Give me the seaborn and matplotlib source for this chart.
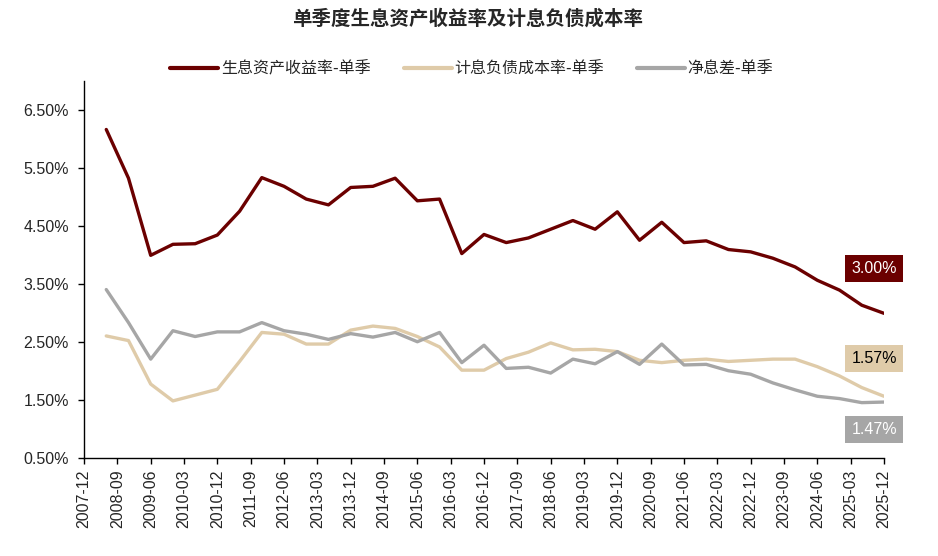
import pandas as pd
import matplotlib.pyplot as plt
import seaborn as sns

# half-year points, 2008-06 .. 2025-12
dates = ['2008-06', '2008-12', '2009-06', '2009-12', '2010-06', '2010-12',
         '2011-06', '2011-12', '2012-06', '2012-12', '2013-06', '2013-12',
         '2014-06', '2014-12', '2015-06', '2015-12', '2016-06', '2016-12',
         '2017-06', '2017-12', '2018-06', '2018-12', '2019-06', '2019-12',
         '2020-06', '2020-12', '2021-06', '2021-12', '2022-06', '2022-12',
         '2023-06', '2023-12', '2024-06', '2024-12', '2025-06', '2025-12']

yield_rate = [6.17, 5.33, 4.00, 4.19, 4.20, 4.35, 4.76, 5.34, 5.19, 4.97, 4.87, 5.17,
              5.19, 5.33, 4.94, 4.97, 4.03, 4.36, 4.22, 4.30, 4.45, 4.60, 4.45, 4.75,
              4.26, 4.57, 4.22, 4.25, 4.10, 4.06, 3.95, 3.80, 3.57, 3.40, 3.14, 3.00]

cost_rate = [2.61, 2.53, 1.78, 1.49, 1.59, 1.69, 2.17, 2.67, 2.64, 2.47, 2.47, 2.71,
             2.78, 2.74, 2.60, 2.42, 2.02, 2.02, 2.22, 2.33, 2.49, 2.37, 2.38, 2.34,
             2.19, 2.15, 2.19, 2.21, 2.17, 2.19, 2.21, 2.21, 2.08, 1.92, 1.72, 1.57]

nim = [3.41, 2.84, 2.21, 2.70, 2.60, 2.68, 2.68, 2.84, 2.70, 2.64, 2.55, 2.65,
       2.59, 2.67, 2.51, 2.67, 2.15, 2.45, 2.05, 2.07, 1.97, 2.21, 2.13, 2.34,
       2.12, 2.47, 2.11, 2.12, 2.01, 1.95, 1.80, 1.68, 1.57, 1.53, 1.46, 1.47]

tick_labels = ['2007-12', '2008-09', '2009-06', '2010-03', '2010-12', '2011-09',
               '2012-06', '2013-03', '2013-12', '2014-09', '2015-06', '2016-03',
               '2016-12', '2017-09', '2018-06', '2019-03', '2019-12', '2020-09',
               '2021-06', '2022-03', '2022-12', '2023-09', '2024-06', '2025-03',
               '2025-12']

series_names = ['生息资产收益率-单季', '计息负债成本率-单季', '净息差-单季']
colors = ['#6B0000', '#DFCBA9', '#A6A6A6']
end_labels = ['3.00%', '1.57%', '1.47%']


def month_idx(s):
    # months since 2007-12, so the date axis stays evenly spaced
    y, m = s.split('-')
    return (int(y) - 2007) * 12 + int(m) - 12


# long-form table for seaborn
rows = []
for name, vals in zip(series_names, [yield_rate, cost_rate, nim]):
    for d, v in zip(dates, vals):
        rows.append({'x': month_idx(d), 'rate': v, 'series': name})
df = pd.DataFrame(rows)

sns.set_theme(style='ticks')
plt.rcParams['font.family'] = ['Liberation Sans', 'Noto Sans CJK SC', 'DejaVu Sans']
plt.rcParams['axes.unicode_minus'] = False

fig = plt.figure(figsize=(9.38, 5.56), dpi=100)
ax = fig.add_axes([0.0896, 0.1757, 0.8528, 0.678])

sns.lineplot(data=df, x='x', y='rate', hue='series', hue_order=series_names,
             palette=colors, linewidth=2.4, ax=ax)

ax.set_xlim(0, month_idx('2025-12'))
ax.set_ylim(0.5, 7.0)
ax.set_xticks([month_idx(t) for t in tick_labels])
ax.set_xticklabels(tick_labels, rotation=90)
ax.set_yticks([0.5, 1.5, 2.5, 3.5, 4.5, 5.5, 6.5])
ax.set_yticklabels(['0.50%', '1.50%', '2.50%', '3.50%', '4.50%', '5.50%', '6.50%'])
ax.tick_params(axis='both', labelsize=11.5, length=4, width=1, color='black')
ax.tick_params(axis='y', pad=7)
ax.tick_params(axis='x', pad=4)
ax.set_xlabel('')
ax.set_ylabel('')
sns.despine(ax=ax)
for sp in ['left', 'bottom']:
    ax.spines[sp].set_color('black')
    ax.spines[sp].set_linewidth(1)

# legend on top, one row
sns.move_legend(ax, 'center', bbox_to_anchor=(0.503, 0.876), bbox_transform=fig.transFigure,
                ncol=3, frameon=False, title=None, fontsize=11.5, handlelength=3,
                handletextpad=0.15, columnspacing=2.1)
leg = ax.get_legend()
for line in leg.get_lines():
    line.set_linewidth(3)
for txt in leg.get_texts():
    txt.set_fontfamily(['Noto Sans CJK SC', 'DejaVu Sans'])

fig.text(0.498, 0.966, '单季度生息资产收益率及计息负债成本率', ha='center', va='center',
         fontsize=14, fontweight='bold', family=['Noto Sans CJK SC', 'DejaVu Sans'])

# end-value boxes
last_x = month_idx(dates[-1])
offsets = [(-7, 32), (-7, 27), (-7, -20)]
text_colors = ['white', 'black', 'white']
for vals, lab, c, tc, off in zip([yield_rate, cost_rate, nim], end_labels, colors,
                                 text_colors, offsets):
    ax.annotate(lab, xy=(last_x, vals[-1]), xytext=off, textcoords='offset points',
                ha='center', va='center', fontsize=11.5, color=tc, annotation_clip=False,
                bbox=dict(boxstyle='square,pad=0.38', fc=c, ec='none'))

fig.savefig('out.png', dpi=100)
